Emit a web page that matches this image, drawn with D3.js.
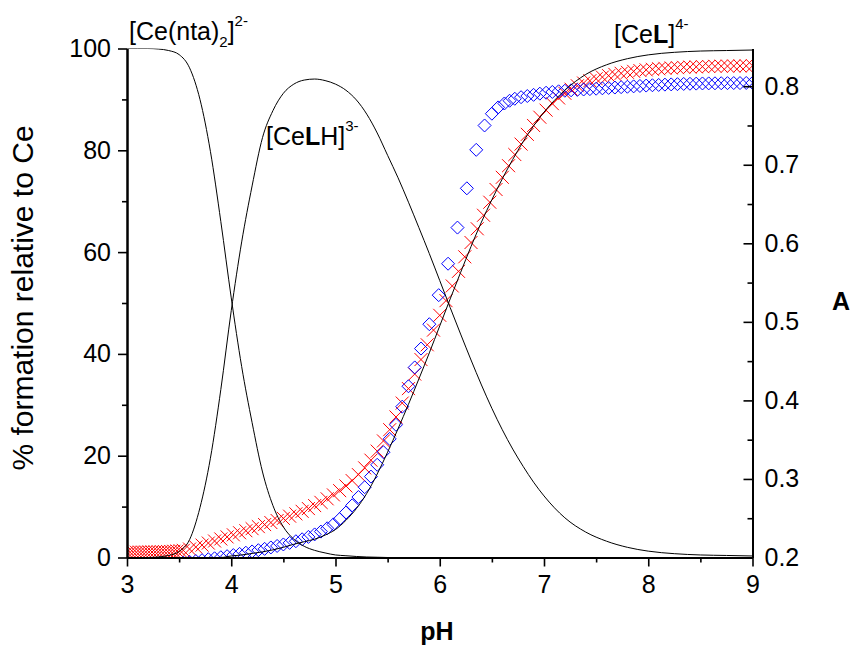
<!DOCTYPE html>
<html>
<head>
<meta charset="utf-8">
<script src="https://cdn.jsdelivr.net/npm/d3@7"></script>
<style>
body { margin: 0; background: #fff; }
text { font-family: "Liberation Sans", Arial, sans-serif; fill: #000; }
</style>
</head>
<body>
<svg id="chart" width="851" height="646"></svg>
<script>
// axis ticks
const xTicks = [3, 4, 5, 6, 7, 8, 9];
const xMinor = [3.5, 4.5, 5.5, 6.5, 7.5, 8.5];
const leftTicks = [0, 20, 40, 60, 80, 100];
const leftMinor = [10, 30, 50, 70, 90];
const rightTicks = [0.2, 0.3, 0.4, 0.5, 0.6, 0.7, 0.8];
const rightMinor = [0.25, 0.35, 0.45, 0.55, 0.65, 0.75];

// species distribution (% relative to Ce)
const speciesPH = [3.0, 3.1, 3.2, 3.3, 3.4, 3.5, 3.6, 3.7, 3.8, 3.9, 4.0, 4.1, 4.2, 4.3, 4.4, 4.5, 4.6, 4.7, 4.8, 4.9,
    5.0, 5.1, 5.2, 5.3, 5.4, 5.5, 5.6, 5.7, 5.8, 5.9, 6.0, 6.1, 6.2, 6.3, 6.4, 6.5, 6.6, 6.7, 6.8, 6.9,
    7.0, 7.2, 7.4, 7.6, 7.8, 8.0, 8.25, 8.5, 8.75, 9.0];
const ceNta2 = [100, 100, 100, 99.9, 99.6, 98.8, 96.2, 90, 79.8, 66, 51, 37.5, 26.5, 16.8, 10.2, 6.0, 3.6, 2.2, 1.4, 0.9,
    0.5, 0.35, 0.2, 0.1, 0.05, 0, 0, 0, 0, 0, 0, 0, 0, 0, 0, 0, 0, 0, 0, 0,
    0, 0, 0, 0, 0, 0, 0, 0, 0, 0];
const ceLH = [0, 0, 0, 0.1, 0.4, 1.2, 3.5, 9.8, 19.5, 33, 48.5, 62, 73, 82.5, 87.8, 91.2, 93.0, 93.8, 94, 93.7,
    93.0, 91.8, 89.9, 87.1, 83.4, 79, 74.6, 69.8, 64.8, 59.7, 54.4, 49.1, 43.9, 38.8, 33.9, 29.3, 25.1, 21.3, 17.9, 14.8,
    12.1, 7.8, 5.0, 3.2, 2.0, 1.25, 0.75, 0.5, 0.4, 0.3];
const ceL = [0, 0, 0, 0, 0, 0, 0, 0, 0, 0, 0.3, 0.5, 0.8, 1.1, 1.5, 2, 2.6, 3.1, 3.6, 4.4,
    5.5, 7.3, 9.6, 12.6, 16.4, 20.7, 25.3, 30.1, 35.1, 40.2, 45.5, 50.8, 56.0, 61.1, 65.9, 70.3, 74.4, 78.2, 81.7, 84.8,
    87.5, 91.8, 94.9, 96.8, 98, 98.75, 99.25, 99.5, 99.6, 99.7];

// absorbance, red crosses
const redPH = [3.00, 3.03, 3.06, 3.09, 3.12, 3.15, 3.18, 3.21, 3.24, 3.27, 3.30, 3.33, 3.36, 3.39, 3.42, 3.45, 3.48, 3.51, 3.54,
    3.60, 3.66, 3.72, 3.78, 3.84, 3.90, 3.96, 4.02, 4.08, 4.14, 4.20, 4.26, 4.32, 4.38, 4.44, 4.50, 4.56, 4.62, 4.68, 4.74,
    4.80, 4.86, 4.92, 4.98, 5.04, 5.10, 5.16, 5.22, 5.28, 5.34, 5.40, 5.46, 5.52, 5.58, 5.64, 5.70, 5.76, 5.82, 5.88, 5.94,
    6.00, 6.06, 6.12, 6.18, 6.24, 6.30, 6.36, 6.42, 6.48, 6.54, 6.60, 6.66, 6.72, 6.78, 6.84, 6.90, 6.96, 7.02, 7.08, 7.14,
    7.20, 7.26, 7.32, 7.38, 7.44, 7.50, 7.56, 7.62, 7.68, 7.74, 7.80, 7.86, 7.92, 7.98, 8.04, 8.10, 8.16, 8.22, 8.28, 8.34,
    8.40, 8.46, 8.52, 8.58, 8.64, 8.70, 8.76, 8.82, 8.88, 8.94, 9.00];
const redA = [0.2065, 0.2066, 0.2067, 0.2067, 0.2068, 0.2068, 0.2069, 0.2070, 0.2070, 0.2071, 0.2072, 0.2073, 0.2074, 0.2075, 0.2077, 0.2079, 0.2082, 0.2086, 0.2091,
    0.2108, 0.2133, 0.2158, 0.2184, 0.2210, 0.2236, 0.2262, 0.2289, 0.2315, 0.2341, 0.2367, 0.2393, 0.2419, 0.2445, 0.2471, 0.2498, 0.2526, 0.2556, 0.2588, 0.2623,
    0.2661, 0.2702, 0.2747, 0.2797, 0.2851, 0.2911, 0.2979, 0.3055, 0.3141, 0.3239, 0.3354, 0.3484, 0.3627, 0.3789, 0.3966, 0.4150, 0.4335, 0.4520, 0.4708, 0.4895,
    0.5083, 0.5270, 0.5457, 0.5643, 0.5828, 0.6010, 0.6185, 0.6357, 0.6523, 0.6685, 0.6840, 0.6988, 0.7130, 0.7263, 0.7387, 0.7500, 0.7605, 0.7695, 0.7778, 0.7850,
    0.7910, 0.7962, 0.8005, 0.8040, 0.8070, 0.8095, 0.8116, 0.8134, 0.8150, 0.8164, 0.8177, 0.8189, 0.8199, 0.8208, 0.8215, 0.8222, 0.8227, 0.8232, 0.8236, 0.8240,
    0.8243, 0.8246, 0.8249, 0.8251, 0.8253, 0.8255, 0.8256, 0.8257, 0.8258, 0.8259, 0.8260];

// absorbance, blue diamonds
const bluePH = [3.00, 3.06, 3.12, 3.18, 3.24, 3.30, 3.36, 3.42, 3.48, 3.54,
    3.60, 3.66, 3.72, 3.78, 3.84, 3.90, 3.96, 4.02, 4.08, 4.14, 4.20, 4.26, 4.32, 4.38, 4.44, 4.50, 4.56, 4.62, 4.68,
    4.74, 4.80, 4.86, 4.92, 4.98, 5.04, 5.10, 5.16, 5.22, 5.28, 5.34, 5.40, 5.46, 5.52, 5.58, 5.64, 5.70, 5.76, 5.82,
    5.90, 5.99, 6.08, 6.17, 6.26, 6.35, 6.43, 6.50, 6.56, 6.62, 6.67,
    6.72, 6.78, 6.84, 6.90, 6.96, 7.02, 7.08, 7.14, 7.20, 7.26, 7.32, 7.38, 7.44, 7.50, 7.56, 7.62, 7.68, 7.74, 7.80,
    7.86, 7.92, 7.98, 8.04, 8.10, 8.16, 8.22, 8.28, 8.34, 8.40, 8.46, 8.52, 8.58, 8.64, 8.70, 8.76, 8.82, 8.88, 8.94, 9.00];
const blueA = [0.1860, 0.1865, 0.1870, 0.1875, 0.1883, 0.1891, 0.1901, 0.1911, 0.1922, 0.1934,
    0.1945, 0.1955, 0.1966, 0.1978, 0.1990, 0.2003, 0.2017, 0.2031, 0.2046, 0.2061, 0.2077, 0.2093, 0.2110, 0.2128, 0.2147, 0.2166, 0.2186, 0.2207, 0.2232,
    0.2262, 0.2294, 0.2330, 0.2372, 0.2422, 0.2490, 0.2572, 0.2664, 0.2770, 0.2895, 0.3030, 0.3180, 0.3340, 0.3510, 0.3690, 0.3920, 0.4180, 0.4420, 0.4660,
    0.4970, 0.5340, 0.5740, 0.6200, 0.6700, 0.7190, 0.7500, 0.7650, 0.7730, 0.7780, 0.7815,
    0.7840, 0.7860, 0.7875, 0.7890, 0.7905, 0.7917, 0.7927, 0.7935, 0.7942, 0.7948, 0.7953, 0.7958, 0.7963, 0.7968, 0.7973, 0.7978, 0.7983, 0.7988, 0.7993,
    0.7998, 0.8003, 0.8008, 0.8012, 0.8016, 0.8020, 0.8023, 0.8026, 0.8029, 0.8031, 0.8033, 0.8035, 0.8036, 0.8037, 0.8038, 0.8039, 0.8040, 0.8040, 0.8041, 0.8042];

const svg = d3.select("#chart");
const plot = { left: 127, right: 752.5, top: 48.5, bottom: 557.5 };

const x = d3.scaleLinear().domain([3, 9]).range([plot.left, plot.right]);
const yL = d3.scaleLinear().domain([0, 100]).range([plot.bottom, plot.top]);
const yR = d3.scaleLinear().domain([0.2, 0.848]).range([plot.bottom, plot.top]);

svg.append("clipPath").attr("id", "plotClip")
    .append("rect")
    .attr("x", plot.left).attr("y", plot.top)
    .attr("width", plot.right - plot.left).attr("height", plot.bottom - plot.top);

const zip = (a, b) => a.map((v, i) => [v, b[i]]);

// markers first, species lines on top
const marks = svg.append("g").attr("clip-path", "url(#plotClip)");

marks.selectAll(".cross").data(zip(redPH, redA)).enter().append("path")
    .attr("class", "cross")
    .attr("transform", d => `translate(${x(d[0])},${yR(d[1])})`)
    .attr("d", "M-6.5,-6.5L6.5,6.5M-6.5,6.5L6.5,-6.5")
    .attr("fill", "none")
    .attr("stroke", "#ff0000")
    .attr("stroke-width", 1);

marks.selectAll(".diamond").data(zip(bluePH, blueA)).enter().append("path")
    .attr("class", "diamond")
    .attr("transform", d => `translate(${x(d[0])},${yR(d[1])})`)
    .attr("d", "M0,-6.5L6.5,0L0,6.5L-6.5,0Z")
    .attr("fill", "none")
    .attr("stroke", "#0000ff")
    .attr("stroke-width", 1);

const line = d3.line()
    .x(d => x(d[0]))
    .y(d => yL(d[1]))
    .curve(d3.curveMonotoneX);

[ceNta2, ceLH, ceL].forEach(vals => {
    marks.append("path")
        .datum(zip(speciesPH, vals))
        .attr("d", line)
        .attr("fill", "none")
        .attr("stroke", "#000")
        .attr("stroke-width", 1);
});

// axes
function styleAxis(g) {
    g.select(".domain").attr("stroke-width", 2);
    g.selectAll(".tick line").attr("stroke-width", 1.6);
    g.selectAll(".tick text").attr("font-size", 25).attr("font-family", "Liberation Sans, Arial, sans-serif");
}

const bottom = `translate(0,${plot.bottom})`;
svg.append("g").attr("transform", bottom)
    .call(d3.axisBottom(x).tickValues(xMinor).tickSize(5).tickSizeOuter(0).tickFormat(""))
    .call(styleAxis);
svg.append("g").attr("transform", bottom)
    .call(d3.axisBottom(x).tickValues(xTicks).tickSize(9).tickPadding(9).tickSizeOuter(0).tickFormat(d3.format("d")))
    .call(styleAxis);

svg.append("g").attr("transform", `translate(${plot.left},0)`)
    .call(d3.axisLeft(yL).tickValues(leftMinor).tickSize(5).tickSizeOuter(0).tickFormat(""))
    .call(styleAxis);
svg.append("g").attr("transform", `translate(${plot.left},0)`)
    .call(d3.axisLeft(yL).tickValues(leftTicks).tickSize(9).tickPadding(7).tickSizeOuter(0).tickFormat(d3.format("d")))
    .call(styleAxis);

svg.append("g").attr("transform", `translate(${plot.right},0)`)
    .call(d3.axisRight(yR).tickValues(rightMinor).tickSize(-5).tickSizeOuter(0).tickFormat(""))
    .call(styleAxis);
svg.append("g").attr("transform", `translate(${plot.right},0)`)
    .call(d3.axisRight(yR).tickValues(rightTicks).tickSize(-9).tickPadding(12).tickSizeOuter(0).tickFormat(d3.format(".1f")))
    .call(styleAxis);

// axis titles
svg.append("text")
    .attr("x", 437).attr("y", 640)
    .attr("text-anchor", "middle")
    .style("font-size", "25px").style("font-weight", "bold")
    .text("pH");

svg.append("text")
    .attr("x", 841).attr("y", 310)
    .attr("text-anchor", "middle")
    .style("font-size", "25px").style("font-weight", "bold")
    .text("A");

svg.append("text")
    .attr("transform", "translate(33,298) rotate(-90)")
    .attr("text-anchor", "middle")
    .style("font-size", "30px")
    .text("% formation relative to Ce");

// species labels; parts: plain, bold, sub, sup
function speciesLabel(parts, lx, ly) {
    const t = svg.append("text").attr("x", lx).attr("y", ly).style("font-size", "25px");
    let shift = 0;
    parts.forEach(p => {
        const s = t.append("tspan").text(p.t);
        let target = 0;
        if (p.sub) target = 7;
        if (p.sup) target = -14;
        s.attr("dy", target - shift);
        shift = target;
        if (p.sub || p.sup) s.style("font-size", "15px");
        if (p.b) s.style("font-weight", "bold");
    });
}

speciesLabel([{ t: "[Ce(nta)" }, { t: "2", sub: true }, { t: "]" }, { t: "2-", sup: true }], 129, 40);
speciesLabel([{ t: "[Ce" }, { t: "L", b: true }, { t: "H]" }, { t: "3-", sup: true }], 266, 145);
speciesLabel([{ t: "[Ce" }, { t: "L", b: true }, { t: "]" }, { t: "4-", sup: true }], 614, 43);
</script>
</body>
</html>
